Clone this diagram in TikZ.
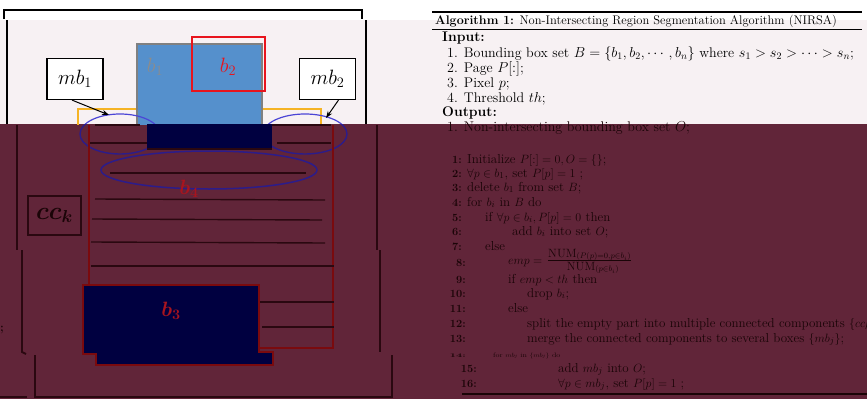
\documentclass[tikz,border=0pt]{standalone}
\usepackage{amsmath,amssymb,graphicx}
\usetikzlibrary{arrows.meta}
\definecolor{pinkbg}{HTML}{F7F1F3}
\definecolor{ovbg}{HTML}{612539}
\definecolor{navyf}{HTML}{000040}
\definecolor{dred}{HTML}{7A0A0E}
\definecolor{dline}{HTML}{2A0810}
\definecolor{dtext}{HTML}{1A0407}
\definecolor{bluefill}{HTML}{5590CC}
\definecolor{orangeln}{HTML}{F5B324}
\definecolor{ellblue}{HTML}{4B45D6}
\definecolor{ellblued}{HTML}{2C1C8A}
\definecolor{redb}{HTML}{E8141C}
\definecolor{labred}{HTML}{A8141E}
\definecolor{graylab}{HTML}{8C8C8C}
\tikzset{
  lab/.style={inner sep=0, font=\fontsize{21}{25}\selectfont},
  labd/.style={inner sep=0, font=\fontsize{21}{25}\selectfont\boldmath, text=labred},
  mbox/.style={draw=black, fill=white, line width=1.2, inner sep=0, minimum width=56, minimum height=41, font=\fontsize{22}{26}\selectfont},
  txl/.style={draw=dline, line width=1.4},
  brk/.style={draw=black, line width=1.8},
  brkd/.style={draw=dline, line width=1.8},
  algt/.style={anchor=base west, inner sep=0, font=\fontsize{14}{16}\selectfont, text=black},
  algd/.style={anchor=base west, inner sep=0, font=\fontsize{13}{15}\selectfont, text=dtext},
  algn/.style={anchor=base east, inner sep=0, font=\fontsize{11}{12}\selectfont\bfseries, text=dtext},
}
\begin{document}
\begin{tikzpicture}[x=1pt,y=-1pt]
\clip (0,0) rectangle (867,399);
\fill[white] (0,0) rectangle (867,20);
\fill[pinkbg] (0,20) rectangle (867,124);
\fill[ovbg] (0,124) rectangle (867,399);

% ---------- top (light) region ----------
\begin{scope}
\clip (0,0) rectangle (867,124);
\draw[orangeln, line width=1.5] (78,130) -- (78,109) -- (137,109);
\draw[orangeln, line width=1.5] (262,109) -- (321,109) -- (321,130);
\fill[bluefill] (137,44) rectangle (262,130);
\draw[gray, line width=2] (137,130) -- (137,44) -- (262,44) -- (262,130);
\draw[ellblue, line width=1.2] (120,134) ellipse [x radius=40, y radius=20];
\draw[ellblue, line width=1.2] (305,134) ellipse [x radius=42, y radius=20];
\end{scope}
\draw[redb, line width=2] (192,37) rectangle (265,91);
\node[lab, text=graylab] (lb1) at (155,67) {$b_1$};
\node[lab, text=redb] (lb2) at (228,67) {$b_2$};
\node[mbox] (mb1) at (75,79) {$mb_1$};
\node[mbox] (mb2) at (327.5,79) {$mb_2$};
\coordinate (mb1t) at (109,115);
\coordinate (mb2t) at (326,118);
\draw[-{Stealth[length=7,width=5]}, line width=1] ([xshift=-3]mb1.south) -- (mb1t);
\draw[-{Stealth[length=7,width=5]}, line width=1] ([xshift=11]mb2.south) -- (mb2t);
\draw[brk] (4,19) -- (4,10) -- (362,10) -- (362,19);
\draw[brk] (7,20) -- (7,124);
\draw[brk] (366,20) -- (366,124);

% ---------- lower (dark) region ----------
\begin{scope}
\clip (0,124) rectangle (867,399);
\draw[ellblued, line width=1.4] (120,134) ellipse [x radius=40, y radius=20];
\draw[ellblued, line width=1.4] (305,134) ellipse [x radius=42, y radius=20];
\end{scope}
\fill[navyf] (147,124) rectangle (272,149);
\draw[dline, line width=1.5] (147,149) -- (272,149);
\draw[dred, line width=1.4] (89,125) -- (89,284);
\draw[dred, line width=1.4] (333,125) -- (333,348) -- (259,348);
\draw[txl] (95,125) -- (140,125);
\draw[txl] (272,125) -- (331,125);
\draw[txl] (90,143) -- (147,143);
\draw[txl] (277,143) -- (331,143);
\draw[txl] (110,173) -- (306,173);
\draw[txl] (95,199) -- (325,200);
\draw[txl] (92,219) -- (322,220);
\draw[txl] (91,242) -- (325,243);
\draw[txl] (91,266) -- (334,266);
\draw[txl] (259,302) -- (334,302);
\draw[txl] (262,327) -- (334,327);
\draw[ellblued, line width=1.5] (209,170) ellipse [x radius=108, y radius=19];
\node[labd] (lb4) at (189,189) {$b_4$};
\filldraw[fill=navyf, draw=dred, line width=1.8] (83,285) -- (259,285) -- (259,352) -- (273,352) -- (273,365) -- (96,365) -- (96,354) -- (83,354) -- cycle;
\node[labd] (lb3) at (171,311) {$b_3$};
\node[draw=dline, line width=1.3, inner sep=0, minimum width=53, minimum height=39, font=\fontsize{24}{28}\selectfont\boldmath, text=dtext] (cck) at (54.5,215.5) {$cc_k$};
\draw[brkd] (17,125) -- (17,250);
\draw[brkd] (22,250) -- (22,352) -- (26,354);
\draw[brkd] (377,125) -- (377,250);
\draw[brkd] (380,250) -- (380,352);
\draw[brkd] (35,355) -- (35,397) -- (392,397) -- (392,355);
\draw[brkd] (0,397) -- (27,397);
\node[anchor=base west, inner sep=0, font=\fontsize{12}{14}\selectfont\bfseries, text=dtext] (frag) at (0,331) {;};

% ---------- algorithm ----------
\draw[black, line width=1.5] (432,12) -- (862,12);
\draw[black, line width=0.9] (432,29) -- (862,29);
\node[algt, font=\fontsize{12.5}{15}\selectfont] (cap) at (435,24) {\textbf{Algorithm 1:} Non-Intersecting Region Segmentation Algorithm (NIRSA)};
\node[algt] (inp) at (442,41) {\textbf{Input:}};
\node[algt] (i1) at (447,57) {1. Bounding box set $B=\{b_1,b_2,\cdots,b_n\}$ where $s_1>s_2>\cdots>s_n$;};
\node[algt] (i2) at (447,72) {2. Page $P[:]$;};
\node[algt] (i3) at (447,87) {3. Pixel $p$;};
\node[algt] (i4) at (447,102) {4. Threshold $th$;};
\node[algt] (outp) at (442,116) {\textbf{Output:}};
\node[algt, text=dtext] (o1) at (447,131) {1. Non-intersecting bounding box set $O$;};

\node[algn] (n1) at (462,163) {1:};
\node[algd] (l1) at (467,163) {Initialize $P[:]=0,O=\{\}$;};
\node[algn] (n2) at (462,177) {2:};
\node[algd] (l2) at (467,177) {$\forall p\in b_1$, set $P[p]=1$ ;};
\node[algn] (n3) at (462,191) {3:};
\node[algd] (l3) at (467,191) {delete $b_1$ from set $B$;};
\node[algn] (n4) at (462,206) {4:};
\node[algd] (l4) at (467,206) {for $b_i$ in $B$ do};
\node[algn] (n5) at (462,221) {5:};
\node[algd] (l5) at (485,221) {if $\forall p\in b_i, P[p]=0$ then};
\node[algn] (n6) at (462,235) {6:};
\node[algd] (l6) at (512,235) {add $b_i$ into set $O$;};
\node[algn] (n7) at (462,250) {7:};
\node[algd] (l7) at (485,250) {else};
\node[algn] (n8) at (466,266) {8:};
\node[algd] (l8) at (508,264) {$emp=$};
\node[algd, font=\fontsize{12}{13}\selectfont] (l8n) at (548,257) {NUM$_{(P(p)=0,p\in b_i)}$};
\node[algd, font=\fontsize{12}{13}\selectfont, anchor=base] (l8d) at (593,270) {NUM$_{(p\in b_i)}$};
\draw[dtext, line width=0.8] (l8n.south west |- 0,260.5) -- (l8n.south east |- 0,260.5);
\node[algn] (n9) at (466,283) {9:};
\node[algd] (l9) at (508,283) {if $emp<th$ then};
\node[algn] (n10) at (466,297) {10:};
\node[algd] (l10) at (527,297) {drop $b_i$;};
\node[algn] (n11) at (466,312) {11:};
\node[algd] (l11) at (508,312) {else};
\node[algn] (n12) at (466,327) {12:};
\node[algd] (l12) at (527,327) {split the empty part into multiple connected components $\{cc_k\}$;};
\node[algn] (n13) at (466,342) {13:};
\node[algd] (l13) at (527,342) {merge the connected components to several boxes $\{mb_j\}$;};
\node[algn] (n14) at (466,357) {\scalebox{1}[0.5]{14:}};
\node[algd] (l14) at (493,357) {\scalebox{0.62}[0.5]{for $mb_j$ in $\{mb_j\}$ do}};
\node[algn] (n15) at (477,372) {15:};
\node[algd] (l15) at (558,372) {add $mb_j$ into $O$;};
\node[algn] (n16) at (477,387) {16:};
\node[algd] (l16) at (558,387) {$\forall p\in mb_j$, set $P[p]=1$ ;};
\draw[dtext, line width=1.5] (462,394) -- (867,394);
\end{tikzpicture}
\end{document}
